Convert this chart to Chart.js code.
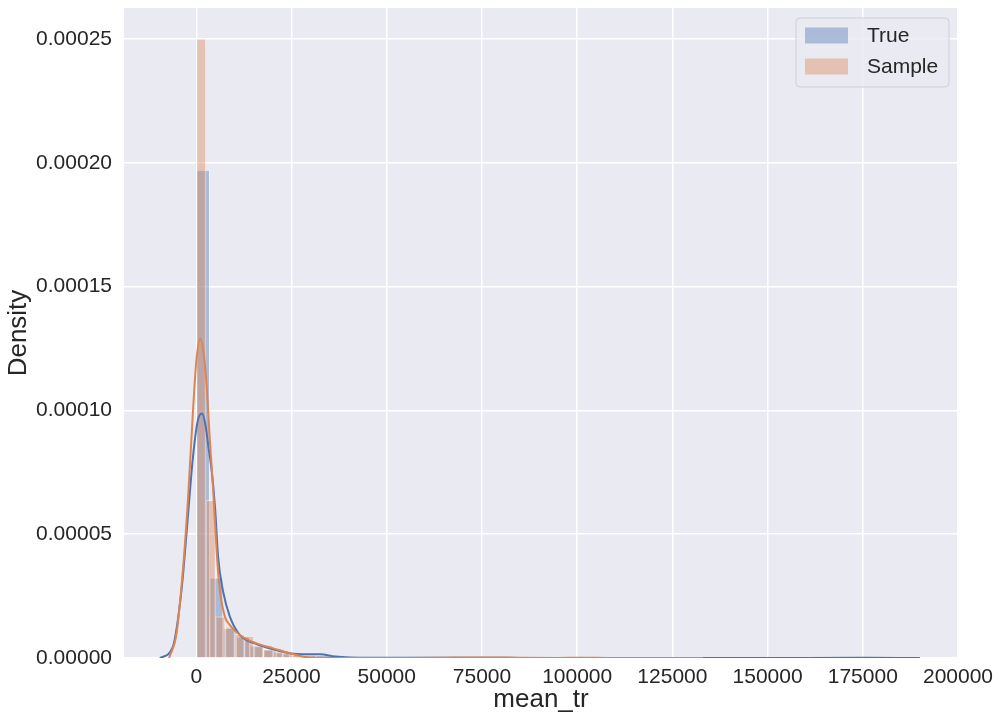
<!DOCTYPE html>
<html>
<head>
<meta charset="utf-8">
<script src="https://cdn.jsdelivr.net/npm/chart.js@4.4.0/dist/chart.umd.min.js"></script>
<style>
  html, body { margin: 0; padding: 0; background: #ffffff; }
  #contenedor { width: 1002px; height: 723px; }
</style>
</head>
<body>
<div id="contenedor"><canvas id="grafico" width="1002" height="723"></canvas></div>
<script>
// Histograma "True": 50 bins de 3500 desde 0 (densidad)
const inicioBinTrue = 0;
const anchoBinTrue = 3500;
const densidadTrue = [
  1.97e-4, 3.24e-5, 1.2e-5, 8.5e-6, 5.0e-6, 3.3e-6, 2.2e-6, 1.3e-6, 1.2e-6, 1.0e-6,
  5e-7, 2e-7, 1e-7, 1e-7, 5e-8, 5e-8, 1e-7, 1e-7, 1e-7, 5e-8,
  5e-8, 0, 5e-8, 5e-8, 0, 0, 5e-8, 0, 5e-8, 0,
  0, 0, 0, 0, 0, 0, 0, 0, 5e-8, 0,
  0, 0, 0, 0, 0, 0, 0, 5e-8, 0, 5e-8
];

// Histograma "Sample": 50 bins de 2520 desde 0
const inicioBinSample = 0;
const anchoBinSample = 2520;
const densidadSample = [
  2.5e-4, 6.37e-5, 1.67e-5, 1.26e-5, 9.6e-6, 8.9e-6, 4.8e-6, 3.5e-6, 2.6e-6, 1.9e-6,
  1.0e-6, 7e-7, 4e-7, 2e-7, 1e-7, 5e-8, 5e-8, 0, 0, 0,
  0, 0, 5e-8, 0, 0, 0, 0, 1e-7, 1e-7, 1e-7,
  1e-7, 5e-8, 0, 0, 0, 0, 0, 0, 0, 1e-7,
  5e-8, 0, 0, 0, 0, 0, 0, 0, 0, 5e-8
];

// Curvas KDE
const kdeTrueX = [-9600, -6200, -3900, -2600, -900, 400, 1500, 2400, 3100, 4000, 4900, 5700, 7000, 8800, 11400, 15800, 20200, 24600, 29000, 32500, 36400, 40400, 46000, 55000, 65000, 75000, 85000, 100000, 120000, 140000, 160000, 175000, 190000];
const kdeTrueY = [0, 4.4e-6, 2.74e-5, 5.0e-5, 8.1e-5, 9.6e-5, 9.87e-5, 9.4e-5, 8.6e-5, 7.6e-5, 6.1e-5, 4.1e-5, 2.7e-5, 1.67e-5, 9.3e-6, 5.6e-6, 3.5e-6, 1.9e-6, 1.5e-6, 1.5e-6, 6e-7, 2e-7, 1e-7, 1e-7, 1.5e-7, 1.5e-7, 5e-8, 5e-8, 3e-8, 3e-8, 5e-8, 8e-8, 0];

const kdeSampleX = [-7150, -5200, -3470, -2160, -840, 0, 1000, 2000, 2700, 3550, 4420, 5310, 6180, 7490, 8800, 11400, 15800, 20200, 24600, 28100, 32500, 40000, 55000, 65000, 72000, 78000, 85000, 95000, 101000, 108000, 120000, 133000];
const kdeSampleY = [0, 1.0e-5, 3.67e-5, 6.5e-5, 1.01e-4, 1.2e-4, 1.29e-4, 1.22e-4, 1.1e-4, 8.8e-5, 6.77e-5, 4.35e-5, 2.74e-5, 1.67e-5, 1.33e-5, 9.3e-6, 5.9e-6, 3.9e-6, 1.9e-6, 5e-7, 1e-7, 3e-8, 5e-8, 1.5e-7, 2.5e-7, 2e-7, 1e-7, 5e-8, 1.5e-7, 5e-8, 2e-8, 0];

// Ticks
const ticksX = [0, 25000, 50000, 75000, 100000, 125000, 150000, 175000, 200000];
const ticksY = [0, 0.00005, 0.0001, 0.00015, 0.0002, 0.00025];

const etiquetaTrue = 'True';
const etiquetaSample = 'Sample';

// Colores seaborn (deep)
const colorAzul = '#4c72b0';
const colorNaranja = '#dd8452';
const fuente = '"Liberation Sans", Arial, sans-serif';
const colorTexto = '#262626';

// Convertir bins a puntos {x: centro, y: densidad}
function armarBarras(inicio, ancho, valores) {
  return valores.map((v, i) => ({ x: inicio + ancho * i + ancho / 2, y: v }));
}
function armarCurva(xs, ys) {
  return xs.map((x, i) => ({ x: x, y: ys[i] }));
}

// Fondo gris del área de dibujo
const fondoPlot = {
  id: 'fondoPlot',
  beforeDraw(chart) {
    const { ctx, chartArea: a } = chart;
    ctx.save();
    ctx.fillStyle = '#eaeaf2';
    ctx.fillRect(a.left, a.top, a.width, a.height);
    ctx.restore();
  }
};

// Leyenda con caja semitransparente, arriba a la derecha
const leyendaCaja = {
  id: 'leyendaCaja',
  afterDraw(chart) {
    const { ctx, chartArea: a } = chart;
    const items = chart.data.datasets.filter(d => d.type === 'bar');
    const w = 153, h = 69;
    const x0 = a.right - 9 - w;
    const y0 = a.top + 10;
    ctx.save();
    ctx.beginPath();
    ctx.roundRect(x0, y0, w, h, 4);
    ctx.fillStyle = 'rgba(234,234,242,0.8)';
    ctx.fill();
    ctx.strokeStyle = '#cfcfd6';
    ctx.lineWidth = 1;
    ctx.stroke();
    ctx.font = '21px ' + fuente;
    ctx.textBaseline = 'middle';
    items.forEach((d, i) => {
      const cy = y0 + 17.5 + i * 31;
      ctx.fillStyle = d.backgroundColor;
      ctx.fillRect(x0 + 9, cy - 8, 43, 16);
      ctx.fillStyle = colorTexto;
      ctx.fillText(d.label, x0 + 71, cy + 1);
    });
    ctx.restore();
  }
};

const ctx = document.getElementById('grafico').getContext('2d');
new Chart(ctx, {
  type: 'bar',
  data: {
    datasets: [
      {
        type: 'bar',
        label: etiquetaTrue,
        data: armarBarras(inicioBinTrue, anchoBinTrue, densidadTrue),
        xAxisID: 'x',
        backgroundColor: 'rgba(76,114,176,0.4)',
        borderColor: 'rgba(255,255,255,0.4)',
        borderWidth: 1,
        grouped: false,
        barPercentage: 1,
        categoryPercentage: 1,
        order: 4
      },
      {
        type: 'bar',
        label: etiquetaSample,
        data: armarBarras(inicioBinSample, anchoBinSample, densidadSample),
        xAxisID: 'x2',
        backgroundColor: 'rgba(221,132,82,0.4)',
        borderColor: 'rgba(255,255,255,0.4)',
        borderWidth: 1,
        grouped: false,
        barPercentage: 1,
        categoryPercentage: 1,
        order: 3
      },
      {
        type: 'line',
        label: 'kde True',
        data: armarCurva(kdeTrueX, kdeTrueY),
        xAxisID: 'x',
        borderColor: colorAzul,
        borderWidth: 2,
        pointRadius: 0,
        fill: false,
        cubicInterpolationMode: 'monotone',
        order: 2
      },
      {
        type: 'line',
        label: 'kde Sample',
        data: armarCurva(kdeSampleX, kdeSampleY),
        xAxisID: 'x',
        borderColor: colorNaranja,
        borderWidth: 2,
        pointRadius: 0,
        fill: false,
        cubicInterpolationMode: 'monotone',
        order: 1
      }
    ]
  },
  options: {
    responsive: false,
    animation: false,
    events: [],
    layout: { padding: { left: 0, right: 44, top: 8, bottom: 0 } },
    plugins: {
      legend: { display: false },
      tooltip: { enabled: false }
    },
    scales: {
      x: {
        type: 'linear',
        position: 'bottom',
        min: -19000,
        max: 200000,
        offset: false,
        afterBuildTicks: s => { s.ticks = ticksX.map(v => ({ value: v })); },
        afterFit: s => { s.height = 65; s.paddingLeft = 0; s.paddingRight = 0; },
        grid: { color: '#ffffff', lineWidth: 1.5, drawTicks: false, offset: false },
        border: { display: false },
        ticks: {
          padding: 7,
          color: colorTexto,
          font: { family: fuente, size: 21 },
          maxRotation: 0,
          callback: v => String(v)
        },
        title: {
          display: true,
          text: 'mean_tr',
          color: colorTexto,
          font: { family: fuente, size: 26 },
          padding: { top: 0, bottom: 8 }
        }
      },
      x2: {
        type: 'linear',
        display: false,
        min: -19000,
        max: 200000,
        offset: false,
        grid: { offset: false }
      },
      y: {
        type: 'linear',
        min: 0,
        max: 0.0002625,
        afterBuildTicks: s => { s.ticks = ticksY.map(v => ({ value: v })); },
        afterFit: s => { s.width = 124; s.paddingTop = 0; s.paddingBottom = 0; },
        grid: { color: '#ffffff', lineWidth: 1.5, drawTicks: false },
        border: { display: false },
        ticks: {
          padding: 12,
          color: colorTexto,
          font: { family: fuente, size: 21 },
          callback: v => Number(v).toFixed(5)
        },
        title: {
          display: true,
          text: 'Density',
          color: colorTexto,
          font: { family: fuente, size: 26 },
          padding: { top: 3, bottom: 0 }
        }
      }
    }
  },
  plugins: [fondoPlot, leyendaCaja]
});
</script>
</body>
</html>
